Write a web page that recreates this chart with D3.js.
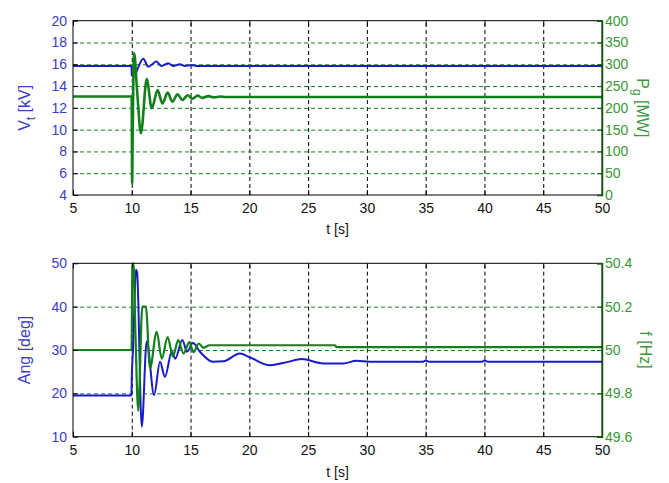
<!DOCTYPE html>
<html>
<head>
<meta charset="utf-8">
<script src="https://cdn.jsdelivr.net/npm/d3@7"></script>
<style>
  body { margin: 0; background: #fff; }
  text { font-family: "Liberation Sans", Arial, sans-serif; }
</style>
</head>
<body>
<script>
// time axis ticks (shared)
let timeTicks = [5, 10, 15, 20, 25, 30, 35, 40, 45, 50];

// top panel: terminal voltage (left) and generator power (right)
let vtTicks = [4, 6, 8, 10, 12, 14, 16, 18, 20];
let pgTicks = [0, 50, 100, 150, 200, 250, 300, 350, 400];
let vtTime = [5, 9.98, 10.0, 10.05, 10.25, 10.5, 10.98, 11.4, 12.1, 12.5, 13.1, 13.5, 14.1, 14.5, 15.1, 15.5, 50];
let vtVal  = [15.85, 15.85, 15.0, 14.95, 15.0, 15.6, 16.5, 15.78, 16.25, 15.84, 16.1, 15.84, 16.0, 15.85, 15.93, 15.85, 15.85];
let pgTime = [5, 9.99, 10.03, 10.08, 10.2, 10.45, 10.78, 11.27, 11.7, 12.2, 12.6, 13.05, 13.45, 13.9, 14.3, 14.75, 15.15, 15.6, 16.0, 16.5, 17.0, 17.5, 18, 50];
let pgVal  = [226, 226, 27, 150, 326, 240, 142, 266, 199, 241, 210, 235, 214, 231, 218, 229, 221, 228, 223, 227, 224, 226, 225, 225];

// bottom panel: rotor angle (left) and frequency (right)
let angTicks = [10, 20, 30, 40, 50];
let fTicks = [49.6, 49.8, 50, 50.2, 50.4];
let angTime = [5, 9.97, 10.0, 10.1, 10.2, 10.35, 10.45, 10.85, 11.27, 11.9, 12.4, 12.82, 13.4, 13.7, 14.3, 14.7, 15.2, 15.8, 16.9, 17.8, 19.2, 20.05, 21.75, 23.2, 24.45, 26.3, 28.0, 29.1, 30.25, 34.8, 35.0, 35.3, 39.8, 40.0, 40.3, 50];
let angVal  = [19.5, 19.5, 23.5, 30, 38, 48.5, 48, 12.3, 32, 19.6, 27.3, 23.8, 29.6, 28, 32.3, 29.6, 31.6, 29.6, 27.3, 27.4, 29.2, 28.3, 26.5, 27.2, 27.9, 26.9, 26.9, 27.5, 27.3, 27.3, 27.6, 27.3, 27.3, 27.6, 27.3, 27.3];
let fTime = [5, 9.98, 10.05, 10.15, 10.3, 10.55, 10.9, 11.2, 11.55, 12.12, 12.55, 13.05, 13.5, 13.95, 14.4, 14.9, 15.25, 15.7, 16.1, 16.6, 27.3, 27.4, 50];
let fVal  = [50.0, 50.0, 50.38, 50.4, 50.1, 49.72, 50.2, 50.2, 49.916, 50.084, 49.96, 50.06, 49.97, 50.046, 49.984, 50.036, 49.99, 50.03, 50.01, 50.022, 50.022, 50.013, 50.013];

let blue = "#1a1ac8";
let green = "#12801a";
let blueText = "#3b3bc4";
let greenText = "#3a963a";

let width = 669, height = 483;
let svg = d3.select("body").append("svg")
    .attr("width", width)
    .attr("height", height);
svg.append("rect").attr("width", width).attr("height", height).attr("fill", "#fff");

let left = 73, right = 602;

function drawPanel(p) {
    let x = d3.scaleLinear().domain([5, 50]).range([left, right]);
    let yL = d3.scaleLinear().domain(p.leftDomain).range([p.bottom, p.top]);
    let yR = d3.scaleLinear().domain(p.rightDomain).range([p.bottom, p.top]);
    let g = svg.append("g");
    let h = p.bottom - p.top;

    // vertical grid (black dashed)
    g.append("g")
        .attr("transform", "translate(0," + p.bottom + ")")
        .call(d3.axisBottom(x).tickValues(timeTicks.slice(1, -1)).tickSize(-h).tickFormat(""))
        .call(a => a.select(".domain").remove())
        .selectAll("line").attr("stroke", "#000").attr("stroke-dasharray", "4,3");

    // horizontal grid (green dashed)
    g.append("g")
        .attr("transform", "translate(" + right + ",0)")
        .call(d3.axisRight(yR).tickValues(p.rightTicks.slice(1, -1)).tickSize(-(right - left)).tickFormat(""))
        .call(a => a.select(".domain").remove())
        .selectAll("line").attr("stroke", green).attr("stroke-dasharray", "4,3");

    // lines
    let lineL = d3.line().curve(d3.curveMonotoneX).x(i => x(p.leftT[i])).y(i => yL(p.leftV[i]));
    let lineR = d3.line().curve(d3.curveMonotoneX).x(i => x(p.rightT[i])).y(i => yR(p.rightV[i]));
    g.append("path").attr("d", lineL(d3.range(p.leftT.length)))
        .attr("fill", "none").attr("stroke", blue).attr("stroke-width", 2).attr("stroke-linejoin", "round");
    g.append("path").attr("d", lineR(d3.range(p.rightT.length)))
        .attr("fill", "none").attr("stroke", green).attr("stroke-width", p.greenWidth).attr("stroke-linejoin", "round");

    // box
    g.append("rect").attr("x", left).attr("y", p.top).attr("width", right - left).attr("height", h)
        .attr("fill", "none").attr("stroke", "#000").attr("stroke-width", 1);

    // bottom time axis
    let xa = g.append("g")
        .attr("transform", "translate(0," + p.bottom + ")")
        .call(d3.axisBottom(x).tickValues(timeTicks).tickSize(-5).tickPadding(8));
    xa.select(".domain").remove();
    xa.selectAll("text").attr("font-size", 14).attr("fill", "#111").attr("font-family", "Liberation Sans, Arial");
    xa.selectAll("line").attr("stroke", "#000");
    // top ticks
    let xt = g.append("g")
        .attr("transform", "translate(0," + p.top + ")")
        .call(d3.axisTop(x).tickValues(timeTicks).tickSize(-5).tickFormat(""));
    xt.select(".domain").remove();

    // left axis
    let la = g.append("g")
        .attr("transform", "translate(" + left + ",0)")
        .call(d3.axisLeft(yL).tickValues(p.leftTicks).tickSize(-5).tickPadding(6).tickFormat(d3.format("d")));
    la.select(".domain").remove();
    la.selectAll("line").attr("stroke", "#000");
    la.selectAll("text").attr("font-size", 14).attr("fill", blueText).attr("font-family", "Liberation Sans, Arial");

    // right axis
    let ra = g.append("g")
        .attr("transform", "translate(" + right + ",0)")
        .call(d3.axisRight(yR).tickValues(p.rightTicks).tickSize(-5).tickPadding(3).tickFormat(p.rightFormat));
    ra.select(".domain").attr("stroke", "#0c5a0c").attr("stroke-width", 1.5);
    ra.selectAll("line").attr("stroke", "#0c5a0c");
    ra.selectAll("text").attr("font-size", 14).attr("fill", greenText).attr("font-family", "Liberation Sans, Arial");

    // x label
    g.append("text")
        .attr("x", (left + right) / 2).attr("y", p.xLabelY)
        .attr("text-anchor", "middle").attr("font-size", 14).attr("fill", "#111")
        .text("t [s]");

    // left label
    let ll = g.append("text")
        .attr("transform", "translate(" + p.leftLabelX + "," + (p.top + p.bottom) / 2 + ") rotate(-90)")
        .attr("text-anchor", "middle").attr("font-size", 16).attr("fill", blueText);
    p.leftLabel(ll);

    // right label
    let rl = g.append("text")
        .attr("transform", "translate(" + p.rightLabelX + "," + (p.top + p.bottom) / 2 + ") rotate(90)")
        .attr("text-anchor", "middle").attr("font-size", 16).attr("fill", greenText);
    p.rightLabel(rl);
}

drawPanel({
    top: 20.7, bottom: 195,
    leftDomain: [4, 20], rightDomain: [0, 400],
    leftTicks: vtTicks, rightTicks: pgTicks,
    leftT: vtTime, leftV: vtVal, rightT: pgTime, rightV: pgVal,
    rightFormat: d3.format("d"),
    greenWidth: 2.6,
    xLabelY: 234,
    leftLabelX: 30, rightLabelX: 637,
    leftLabel: t => {
        t.append("tspan").text("V");
        t.append("tspan").attr("font-size", 12).attr("dy", 5).text("t");
        t.append("tspan").attr("dy", -5).text(" [kV]");
    },
    rightLabel: t => {
        t.append("tspan").text("P");
        t.append("tspan").attr("font-size", 12).attr("dy", 4).text("g");
        t.append("tspan").attr("dy", -4).text(" [MW]");
    }
});

drawPanel({
    top: 263.3, bottom: 436.7,
    leftDomain: [10, 50], rightDomain: [49.6, 50.4],
    leftTicks: angTicks, rightTicks: fTicks,
    leftT: angTime, leftV: angVal, rightT: fTime, rightV: fVal,
    rightFormat: d => d3.format(".1f")(d).replace(/\.0$/, ""),
    greenWidth: 2.2,
    xLabelY: 477,
    leftLabelX: 30, rightLabelX: 640,
    leftLabel: t => t.text("Ang [deg]"),
    rightLabel: t => t.text("f [Hz]")
});
</script>
</body>
</html>
